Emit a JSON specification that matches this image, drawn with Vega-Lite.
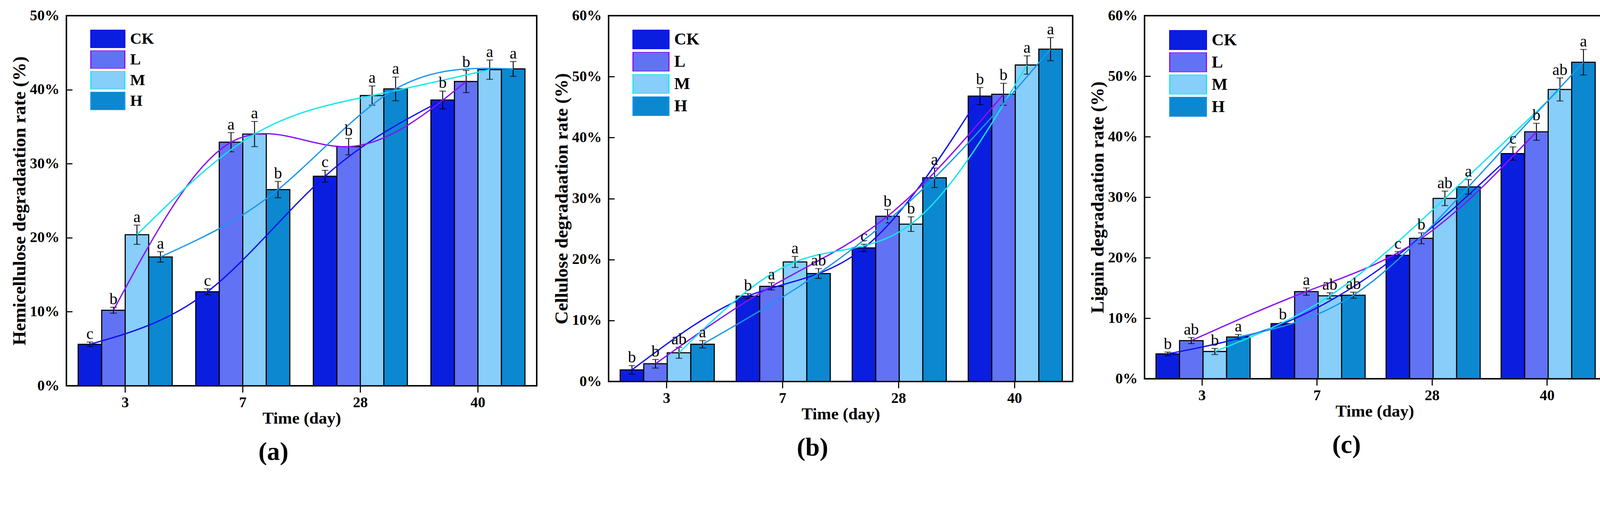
{
  "$schema": "https://vega.github.io/schema/vega-lite/v6.json",
  "background": "white",
  "padding": {"left": 24, "top": 19, "right": 0, "bottom": 0},
  "spacing": 36,
  "resolve": {"scale": {"fill": "independent", "stroke": "independent"}, "legend": {"fill": "independent"}},
  "config": {
    "view": {"stroke": "black", "strokeWidth": 3.75},
    "font": "Liberation Serif",
    "axis": {
      "domain": false, "grid": false,
      "labelFont": "Liberation Serif", "labelFontWeight": "bold", "labelFontSize": 38, "labelColor": "black",
      "titleFont": "Liberation Serif", "titleFontWeight": "bold", "titleColor": "black",
      "tickColor": "black", "tickWidth": 2.8
    },
    "axisX": {"tickSize": 17, "labelPadding": 7, "labelAngle": 0, "titlePadding": 0, "titleFontSize": 43},
    "axisY": {"tickSize": -15, "labelPadding": 33, "titlePadding": 2, "titleFontSize": 47},
    "title": {"font": "Liberation Serif", "fontSize": 66, "fontWeight": "bold", "color": "black", "orient": "bottom", "anchor": "middle", "frame": "bounds", "offset": 33}
  },
  "datasets": {
    "a": [
      {"day": 3, "trt": "CK", "v": 5.6, "hi": 5.9, "lo": 5.3, "sig": "c"},
      {"day": 7, "trt": "CK", "v": 12.7, "hi": 13.1, "lo": 12.3, "sig": "c"},
      {"day": 28, "trt": "CK", "v": 28.3, "hi": 29.1, "lo": 27.5, "sig": "c"},
      {"day": 40, "trt": "CK", "v": 38.6, "hi": 39.8, "lo": 37.4, "sig": "b"},
      {"day": 3, "trt": "L", "v": 10.2, "hi": 10.6, "lo": 9.8, "sig": "b"},
      {"day": 7, "trt": "L", "v": 32.9, "hi": 34.2, "lo": 31.6, "sig": "a"},
      {"day": 28, "trt": "L", "v": 32.3, "hi": 33.4, "lo": 31.2, "sig": "b"},
      {"day": 40, "trt": "L", "v": 41.1, "hi": 42.6, "lo": 39.6, "sig": "b"},
      {"day": 3, "trt": "M", "v": 20.4, "hi": 21.7, "lo": 19.1, "sig": "a"},
      {"day": 7, "trt": "M", "v": 34.0, "hi": 35.7, "lo": 32.3, "sig": "a"},
      {"day": 28, "trt": "M", "v": 39.2, "hi": 40.5, "lo": 37.9, "sig": "a"},
      {"day": 40, "trt": "M", "v": 42.7, "hi": 44.0, "lo": 41.4, "sig": "a"},
      {"day": 3, "trt": "H", "v": 17.4, "hi": 18.1, "lo": 16.7, "sig": "a"},
      {"day": 7, "trt": "H", "v": 26.5, "hi": 27.6, "lo": 25.4, "sig": "b"},
      {"day": 28, "trt": "H", "v": 40.1, "hi": 41.7, "lo": 38.5, "sig": "a"},
      {"day": 40, "trt": "H", "v": 42.8, "hi": 43.8, "lo": 41.8, "sig": "a"}
    ],
    "b": [
      {"day": 3, "trt": "CK", "v": 1.9, "hi": 2.6, "lo": 1.2, "sig": "b"},
      {"day": 7, "trt": "CK", "v": 14.0, "hi": 14.4, "lo": 13.6, "sig": "b"},
      {"day": 28, "trt": "CK", "v": 21.9, "hi": 22.5, "lo": 21.3, "sig": "c"},
      {"day": 40, "trt": "CK", "v": 46.8, "hi": 48.2, "lo": 45.4, "sig": "b"},
      {"day": 3, "trt": "L", "v": 2.9, "hi": 3.6, "lo": 2.2, "sig": "b"},
      {"day": 7, "trt": "L", "v": 15.6, "hi": 16.2, "lo": 15.0, "sig": "a"},
      {"day": 28, "trt": "L", "v": 27.1, "hi": 28.2, "lo": 26.0, "sig": "b"},
      {"day": 40, "trt": "L", "v": 47.1, "hi": 48.9, "lo": 45.3, "sig": "b"},
      {"day": 3, "trt": "M", "v": 4.7, "hi": 5.6, "lo": 3.8, "sig": "ab"},
      {"day": 7, "trt": "M", "v": 19.6, "hi": 20.5, "lo": 18.7, "sig": "a"},
      {"day": 28, "trt": "M", "v": 25.8, "hi": 27.0, "lo": 24.6, "sig": "b"},
      {"day": 40, "trt": "M", "v": 51.9, "hi": 53.4, "lo": 50.4, "sig": "a"},
      {"day": 3, "trt": "H", "v": 6.1, "hi": 6.7, "lo": 5.5, "sig": "a"},
      {"day": 7, "trt": "H", "v": 17.7, "hi": 18.5, "lo": 16.9, "sig": "ab"},
      {"day": 28, "trt": "H", "v": 33.4, "hi": 35.0, "lo": 31.8, "sig": "a"},
      {"day": 40, "trt": "H", "v": 54.5, "hi": 56.4, "lo": 52.6, "sig": "a"}
    ],
    "c": [
      {"day": 3, "trt": "CK", "v": 4.1, "hi": 4.4, "lo": 3.8, "sig": "b"},
      {"day": 7, "trt": "CK", "v": 9.1, "hi": 9.3, "lo": 8.9, "sig": "b"},
      {"day": 28, "trt": "CK", "v": 20.4, "hi": 21.0, "lo": 19.8, "sig": "c"},
      {"day": 40, "trt": "CK", "v": 37.2, "hi": 38.3, "lo": 36.1, "sig": "c"},
      {"day": 3, "trt": "L", "v": 6.3, "hi": 6.8, "lo": 5.8, "sig": "ab"},
      {"day": 7, "trt": "L", "v": 14.4, "hi": 15.0, "lo": 13.8, "sig": "a"},
      {"day": 28, "trt": "L", "v": 23.2, "hi": 24.1, "lo": 22.3, "sig": "b"},
      {"day": 40, "trt": "L", "v": 40.8, "hi": 42.2, "lo": 39.4, "sig": "b"},
      {"day": 3, "trt": "M", "v": 4.5, "hi": 5.0, "lo": 4.0, "sig": "b"},
      {"day": 7, "trt": "M", "v": 13.7, "hi": 14.2, "lo": 13.2, "sig": "ab"},
      {"day": 28, "trt": "M", "v": 29.8, "hi": 31.0, "lo": 28.6, "sig": "ab"},
      {"day": 40, "trt": "M", "v": 47.8, "hi": 49.7, "lo": 45.9, "sig": "ab"},
      {"day": 3, "trt": "H", "v": 6.9, "hi": 7.3, "lo": 6.5, "sig": "a"},
      {"day": 7, "trt": "H", "v": 13.8, "hi": 14.3, "lo": 13.3, "sig": "ab"},
      {"day": 28, "trt": "H", "v": 31.7, "hi": 32.9, "lo": 30.5, "sig": "a"},
      {"day": 40, "trt": "H", "v": 52.3, "hi": 54.4, "lo": 50.2, "sig": "a"}
    ]
  },
  "hconcat": [
    {
      "width": 1204, "height": 948,
      "data": {"name": "a"},
      "title": "(a)",
      "encoding": {
        "x": {"field": "day", "type": "nominal", "sort": [3, 7, 28, 40], "scale": {"paddingInner": 0.2, "paddingOuter": 0.1}, "axis": {"title": "Time (day)"}},
        "xOffset": {"field": "trt", "type": "nominal", "sort": ["CK", "L", "M", "H"], "scale": {"paddingInner": 0, "paddingOuter": 0}}
      },
      "layer": [
        {
          "mark": {"type": "bar", "stroke": "black", "strokeWidth": 2.8},
          "encoding": {
            "y": {"field": "v", "type": "quantitative", "title": "Hemicellulose degradaation rate (%)", "scale": {"domain": [0, 50], "nice": false}, "axis": {"values": [0, 10, 20, 30, 40, 50], "labelExpr": "datum.value + '%'"}},
            "fill": {"field": "trt", "type": "nominal", "sort": ["CK", "L", "M", "H"], "scale": {"domain": ["CK", "L", "M", "H"], "range": ["#0a1ee0", "#6272f5", "#87cefa", "#0b88d0"]},
              "legend": {"orient": "none", "legendX": 61, "legendY": 36, "title": null, "padding": 0, "symbolType": "M-1,-0.54H1V0.54H-1Z", "symbolSize": 7569, "symbolStrokeColor": "black", "symbolStrokeWidth": 3, "labelFont": "Liberation Serif", "labelFontWeight": "bold", "labelFontSize": 41, "labelColor": "black", "labelOffset": 12, "rowPadding": 6, "clipHeight": 47}}
          }
        },
        {
          "mark": {"type": "rule", "color": "black", "strokeWidth": 2.3},
          "encoding": {"y": {"field": "hi", "type": "quantitative", "title": "Hemicellulose degradaation rate (%)"}, "y2": {"field": "lo"}}
        },
        {
          "mark": {"type": "tick", "color": "black", "size": 17, "thickness": 2.3},
          "encoding": {"y": {"field": "hi", "type": "quantitative", "title": "Hemicellulose degradaation rate (%)"}}
        },
        {
          "mark": {"type": "tick", "color": "black", "size": 17, "thickness": 2.3},
          "encoding": {"y": {"field": "lo", "type": "quantitative", "title": "Hemicellulose degradaation rate (%)"}}
        },
        {
          "mark": {"type": "line", "interpolate": "natural", "strokeWidth": 3.3},
          "encoding": {
            "y": {"field": "v", "type": "quantitative", "title": "Hemicellulose degradaation rate (%)"},
            "stroke": {"field": "trt", "type": "nominal", "scale": {"domain": ["CK", "L", "M", "H"], "range": ["#1010f0", "#8a10f5", "#10e8f0", "#1a96ee"]}, "legend": null}
          }
        },
        {
          "mark": {"type": "text", "font": "Liberation Serif", "fontSize": 41, "color": "black", "baseline": "alphabetic", "dy": -8},
          "encoding": {"y": {"field": "hi", "type": "quantitative", "title": "Hemicellulose degradaation rate (%)"}, "text": {"field": "sig"}}
        }
      ]
    },
    {
      "width": 1188, "height": 937,
      "data": {"name": "b"},
      "title": "(b)",
      "encoding": {
        "x": {"field": "day", "type": "nominal", "sort": [3, 7, 28, 40], "scale": {"paddingInner": 0.2, "paddingOuter": 0.1}, "axis": {"title": "Time (day)"}},
        "xOffset": {"field": "trt", "type": "nominal", "sort": ["CK", "L", "M", "H"], "scale": {"paddingInner": 0, "paddingOuter": 0}}
      },
      "layer": [
        {
          "mark": {"type": "bar", "stroke": "black", "strokeWidth": 2.8},
          "encoding": {
            "y": {"field": "v", "type": "quantitative", "title": "Cellulose degradaation rate (%)", "scale": {"domain": [0, 60], "nice": false}, "axis": {"values": [0, 10, 20, 30, 40, 50, 60], "labelExpr": "datum.value + '%'"}},
            "fill": {"field": "trt", "type": "nominal", "sort": ["CK", "L", "M", "H"], "scale": {"domain": ["CK", "L", "M", "H"], "range": ["#0a1ee0", "#6272f5", "#87cefa", "#0b88d0"]},
              "legend": {"orient": "none", "legendX": 61, "legendY": 36, "title": null, "padding": 0, "symbolType": "M-1,-0.54H1V0.54H-1Z", "symbolSize": 8464, "symbolStrokeColor": "black", "symbolStrokeWidth": 3, "labelFont": "Liberation Serif", "labelFontWeight": "bold", "labelFontSize": 43, "labelColor": "black", "labelOffset": 12, "rowPadding": 7, "clipHeight": 50}}
          }
        },
        {
          "mark": {"type": "rule", "color": "black", "strokeWidth": 2.3},
          "encoding": {"y": {"field": "hi", "type": "quantitative", "title": "Cellulose degradaation rate (%)"}, "y2": {"field": "lo"}}
        },
        {
          "mark": {"type": "tick", "color": "black", "size": 17, "thickness": 2.3},
          "encoding": {"y": {"field": "hi", "type": "quantitative", "title": "Cellulose degradaation rate (%)"}}
        },
        {
          "mark": {"type": "tick", "color": "black", "size": 17, "thickness": 2.3},
          "encoding": {"y": {"field": "lo", "type": "quantitative", "title": "Cellulose degradaation rate (%)"}}
        },
        {
          "mark": {"type": "line", "interpolate": "natural", "strokeWidth": 3.3},
          "encoding": {
            "y": {"field": "v", "type": "quantitative", "title": "Cellulose degradaation rate (%)"},
            "stroke": {"field": "trt", "type": "nominal", "scale": {"domain": ["CK", "L", "M", "H"], "range": ["#1010f0", "#8a10f5", "#10e8f0", "#1a96ee"]}, "legend": null}
          }
        },
        {
          "mark": {"type": "text", "font": "Liberation Serif", "fontSize": 41, "color": "black", "baseline": "alphabetic", "dy": -8},
          "encoding": {"y": {"field": "hi", "type": "quantitative", "title": "Cellulose degradaation rate (%)"}, "text": {"field": "sig"}}
        }
      ]
    },
    {
      "width": 1178, "height": 930,
      "data": {"name": "c"},
      "title": "(c)",
      "encoding": {
        "x": {"field": "day", "type": "nominal", "sort": [3, 7, 28, 40], "scale": {"paddingInner": 0.2, "paddingOuter": 0.1}, "axis": {"title": "Time (day)"}},
        "xOffset": {"field": "trt", "type": "nominal", "sort": ["CK", "L", "M", "H"], "scale": {"paddingInner": 0, "paddingOuter": 0}}
      },
      "layer": [
        {
          "mark": {"type": "bar", "stroke": "black", "strokeWidth": 2.8},
          "encoding": {
            "y": {"field": "v", "type": "quantitative", "title": "Lignin degradaation rate (%)", "scale": {"domain": [0, 60], "nice": false}, "axis": {"values": [0, 10, 20, 30, 40, 50, 60], "labelExpr": "datum.value + '%'"}},
            "fill": {"field": "trt", "type": "nominal", "sort": ["CK", "L", "M", "H"], "scale": {"domain": ["CK", "L", "M", "H"], "range": ["#0a1ee0", "#6272f5", "#87cefa", "#0b88d0"]},
              "legend": {"orient": "none", "legendX": 63, "legendY": 37, "title": null, "padding": 0, "symbolType": "M-1,-0.54H1V0.54H-1Z", "symbolSize": 8836, "symbolStrokeColor": "black", "symbolStrokeWidth": 3, "labelFont": "Liberation Serif", "labelFontWeight": "bold", "labelFontSize": 43, "labelColor": "black", "labelOffset": 12, "rowPadding": 6, "clipHeight": 51}}
          }
        },
        {
          "mark": {"type": "rule", "color": "black", "strokeWidth": 2.3},
          "encoding": {"y": {"field": "hi", "type": "quantitative", "title": "Lignin degradaation rate (%)"}, "y2": {"field": "lo"}}
        },
        {
          "mark": {"type": "tick", "color": "black", "size": 17, "thickness": 2.3},
          "encoding": {"y": {"field": "hi", "type": "quantitative", "title": "Lignin degradaation rate (%)"}}
        },
        {
          "mark": {"type": "tick", "color": "black", "size": 17, "thickness": 2.3},
          "encoding": {"y": {"field": "lo", "type": "quantitative", "title": "Lignin degradaation rate (%)"}}
        },
        {
          "mark": {"type": "line", "interpolate": "natural", "strokeWidth": 3.3},
          "encoding": {
            "y": {"field": "v", "type": "quantitative", "title": "Lignin degradaation rate (%)"},
            "stroke": {"field": "trt", "type": "nominal", "scale": {"domain": ["CK", "L", "M", "H"], "range": ["#1010f0", "#8a10f5", "#10e8f0", "#1a96ee"]}, "legend": null}
          }
        },
        {
          "mark": {"type": "text", "font": "Liberation Serif", "fontSize": 41, "color": "black", "baseline": "alphabetic", "dy": -8},
          "encoding": {"y": {"field": "hi", "type": "quantitative", "title": "Lignin degradaation rate (%)"}, "text": {"field": "sig"}}
        }
      ]
    }
  ]
}
